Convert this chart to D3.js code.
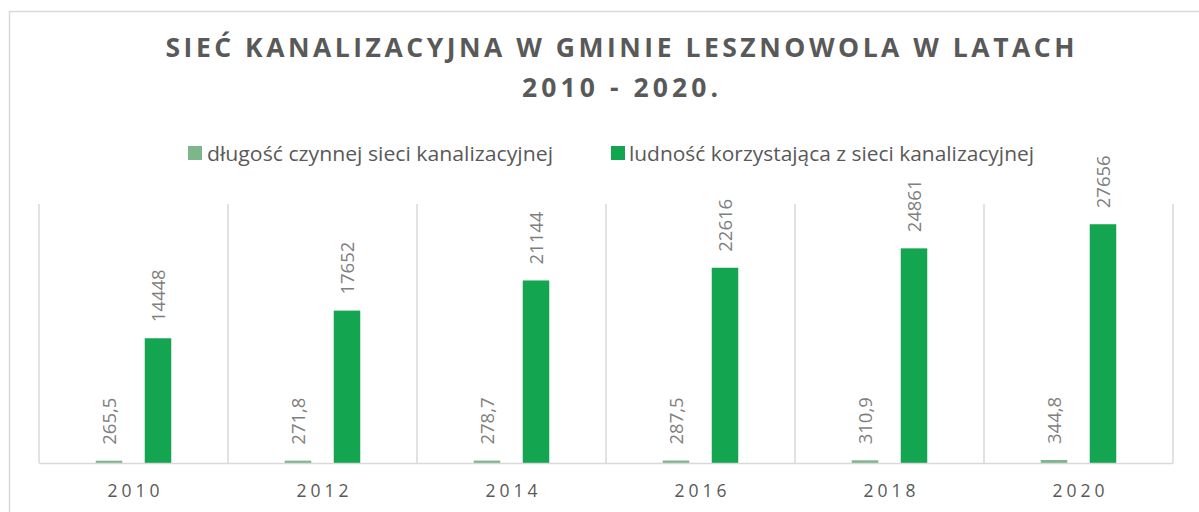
<!DOCTYPE html>
<html>
<head>
<meta charset="utf-8">
<script src="https://cdn.jsdelivr.net/npm/d3@7"></script>
<style>
  html, body { margin: 0; padding: 0; background: #ffffff; }
  svg { display: block; }
</style>
</head>
<body>
<svg id="chart" width="1199" height="512"></svg>
<script>
// Data
const years = ["2010", "2012", "2014", "2016", "2018", "2020"];
const seriesNames = ["długość czynnej sieci kanalizacyjnej", "ludność korzystająca z sieci kanalizacyjnej"];
const networkLength = [265.5, 271.8, 278.7, 287.5, 310.9, 344.8];
const population = [14448, 17652, 21144, 22616, 24861, 27656];
const seriesColors = ["#7db68a", "#13a550"];
const titleLines = ["SIEĆ KANALIZACYJNA W GMINIE LESZNOWOLA W LATACH", "2010 - 2020."];

const svg = d3.select("#chart");
const W = 1199, H = 512;
const plot = { left: 39, right: 1173, top: 204, bottom: 463 };
const fontFam = "'Open Sans', 'Noto Sans', sans-serif";
const textCol = "#595959";
const gridCol = "#d9d9d9";

// Chart frame
svg.append("rect")
  .attr("x", 9.5).attr("y", 11.5)
  .attr("width", W + 40).attr("height", H + 40)
  .attr("fill", "#ffffff").attr("stroke", gridCol).attr("stroke-width", 1.5);

// Title
const titleY = [57, 97];
const titleW = [909, 196];
titleLines.forEach((t, i) => {
  svg.append("text")
    .attr("x", 620).attr("y", titleY[i])
    .attr("text-anchor", "middle")
    .attr("font-family", fontFam).attr("font-weight", 700)
    .attr("font-size", 26.5).attr("fill", textCol)
    .attr("textLength", titleW[i]).attr("lengthAdjust", "spacing")
    .text(t);
});

// Legend
const legendItems = [
  { sx: 188, tx: 207, tw: 346 },
  { sx: 611, tx: 629, tw: 405 }
];
legendItems.forEach((d, i) => {
  svg.append("rect")
    .attr("x", d.sx).attr("y", 146).attr("width", 14).attr("height", 14)
    .attr("fill", seriesColors[i]);
  svg.append("text")
    .attr("x", d.tx).attr("y", 161)
    .attr("font-family", fontFam).attr("font-size", 20).attr("fill", textCol)
    .attr("textLength", d.tw).attr("lengthAdjust", "spacingAndGlyphs")
    .text(seriesNames[i]);
});

// Scales
const x = d3.scaleBand().domain(years).range([plot.left, plot.right]).padding(0);
const bw = x.bandwidth();
const xs = d3.scaleBand().domain([0, 1])
  .range([bw / 2 - 37.75, bw / 2 + 37.75]).paddingInner(0.459).paddingOuter(0);
const y = d3.scaleLinear().domain([0, 30000]).range([plot.bottom, plot.top]);

// Vertical category separators
const bounds = years.map(yr => x(yr)).concat([plot.right]);
svg.append("g").selectAll("line").data(bounds).join("line")
  .attr("x1", d => d).attr("x2", d => d)
  .attr("y1", plot.top).attr("y2", plot.bottom)
  .attr("stroke", gridCol).attr("stroke-width", 1.5);

// Bars
const rows = [];
years.forEach((yr, i) => {
  rows.push({ year: yr, s: 0, v: networkLength[i], label: d3.format(".1f")(networkLength[i]).replace(".", ",") });
  rows.push({ year: yr, s: 1, v: population[i], label: String(population[i]) });
});

svg.append("g").selectAll("rect").data(rows).join("rect")
  .attr("x", d => x(d.year) + xs(d.s))
  .attr("width", xs.bandwidth())
  .attr("y", d => y(d.v))
  .attr("height", d => y(0) - y(d.v))
  .attr("fill", d => seriesColors[d.s]);

// Baseline axis
svg.append("line")
  .attr("x1", plot.left).attr("x2", plot.right)
  .attr("y1", plot.bottom + 0.5).attr("y2", plot.bottom + 0.5)
  .attr("stroke", gridCol).attr("stroke-width", 1.5);

// Value labels (rotated)
svg.append("g").selectAll("text").data(rows).join("text")
  .attr("transform", d => `translate(${x(d.year) + xs(d.s) + xs.bandwidth() / 2},${y(d.v) - 16}) rotate(-90)`)
  .attr("dy", "0.36em")
  .attr("text-anchor", "start")
  .attr("font-family", fontFam).attr("font-size", 18.5).attr("fill", "#7f7f7f")
  .text(d => d.label);

// Category labels
svg.append("g").selectAll("text").data(years).join("text")
  .attr("x", d => x(d) + bw / 2)
  .attr("y", 497)
  .attr("text-anchor", "middle")
  .attr("font-family", fontFam).attr("font-size", 17.5).attr("fill", textCol)
  .attr("textLength", 52).attr("lengthAdjust", "spacing")
  .text(d => d);
</script>
</body>
</html>
